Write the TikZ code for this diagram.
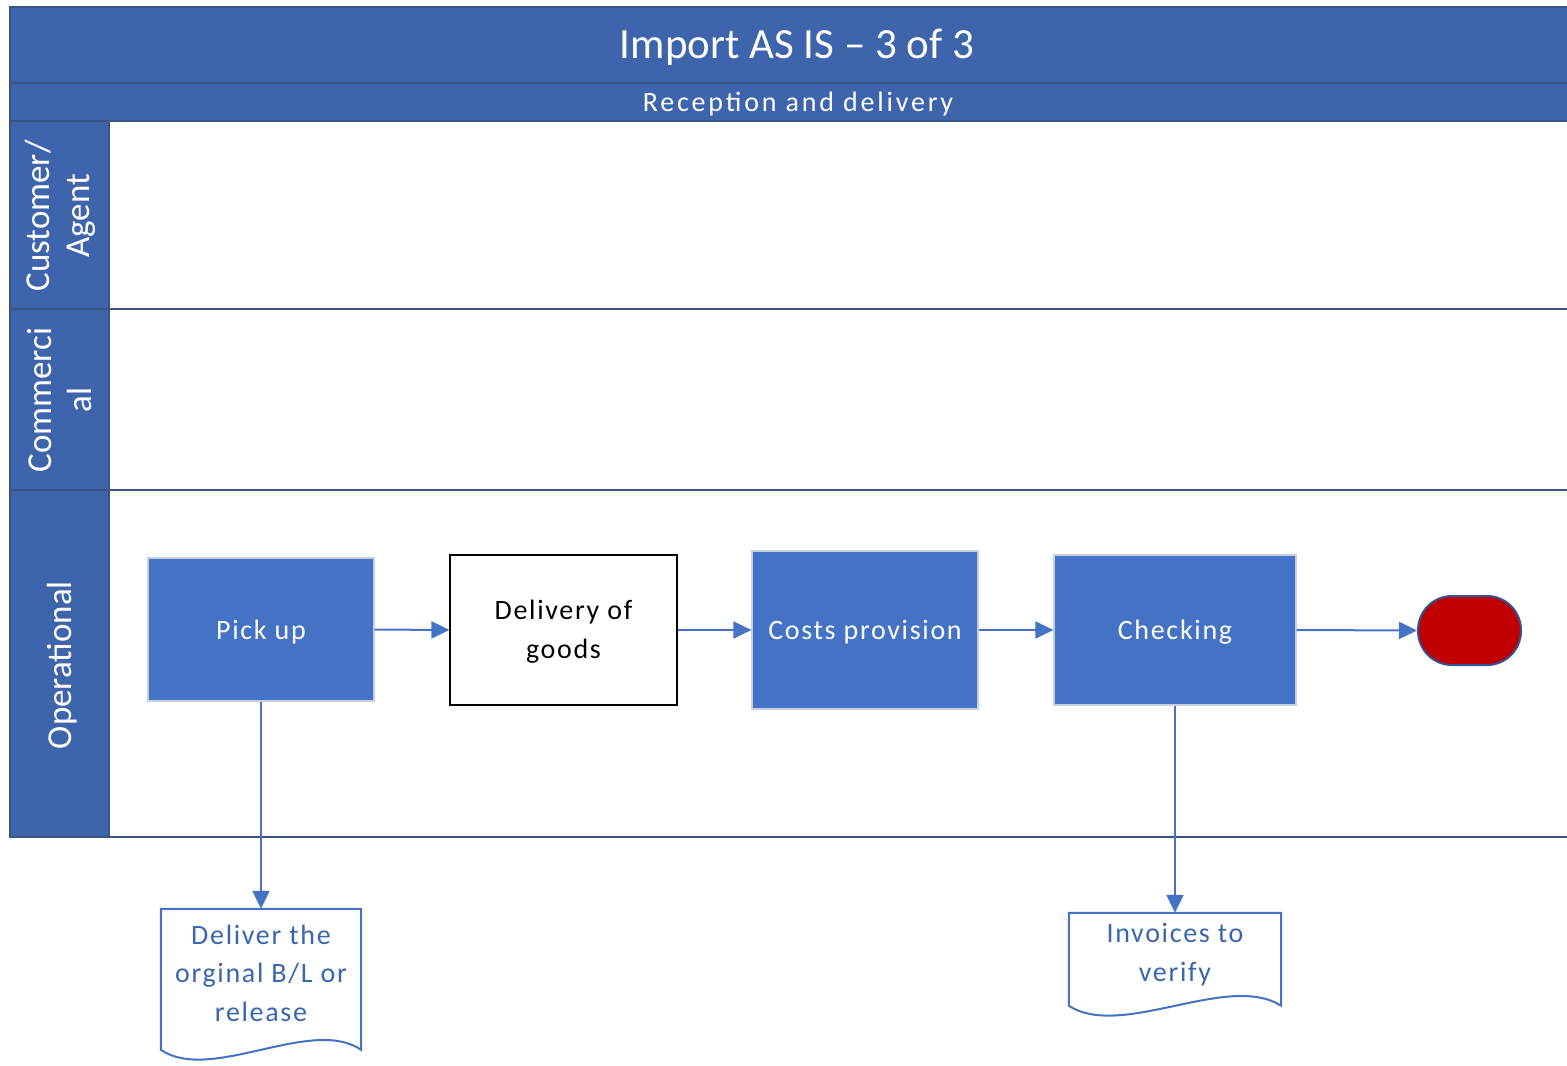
\documentclass[tikz,border=0pt]{standalone}
\usepackage{fontspec}
\setmainfont{Carlito}
\newfontfamily\spacedfont[LetterSpace=6]{Carlito}
\newfontfamily\widefont[LetterSpace=10]{Carlito}
\usetikzlibrary{arrows.meta,calc}
\definecolor{hdr}{HTML}{3E64AC}
\definecolor{rule}{HTML}{3A5584}
\definecolor{proc}{HTML}{4472C4}
\definecolor{procedge}{HTML}{C5CEDF}
\definecolor{flow}{HTML}{4472C4}
\definecolor{doctext}{HTML}{3A65B0}
\definecolor{stopred}{HTML}{C00000}
\definecolor{stopedge}{HTML}{2F5597}
\begin{document}
\begin{tikzpicture}[x=1pt,y=-1pt,
  lanerule/.style={draw=rule,line width=2pt},
  lanelabel/.style={rotate=90,align=center,text=white,font=\fontsize{35}{40}\selectfont},
  steptext/.style={font=\spacedfont\fontsize{28}{39}\selectfont,align=center,
    text height=22pt,text depth=3pt},
  procbox/.style={steptext,rectangle,fill=proc,draw=procedge,line width=1.2pt,text=white},
  plainbox/.style={steptext,rectangle,fill=white,draw=black,line width=1.2pt,text=black},
  stopbox/.style={rectangle,rounded corners=34pt,fill=stopred,draw=stopedge,line width=2pt},
  docnode/.style={rectangle,draw=none,text=doctext,align=center,
    font=\spacedfont\fontsize{28}{38.5}\selectfont,inner sep=0pt},
  docline/.style={draw=flow,line width=2pt,fill=white},
  flowarrow/.style={draw=flow,line width=2pt,-{Triangle[length=18pt,width=17pt]}}]
\useasboundingbox (0,0) rectangle (1567,1066);

% header bands and lane heading column
\fill[hdr] (10,7) rectangle (1567,121);
\fill[hdr] (10,121) rectangle (109,837);
\draw[lanerule] (1567,7) -- (10,7) -- (10,837) -- (1567,837);
\draw[lanerule] (10,83) -- (1567,83);
\draw[lanerule] (10,121) -- (1567,121);
\draw[lanerule] (109,121) -- (109,837);
\draw[lanerule] (10,309) -- (1567,309);
\draw[lanerule] (10,490) -- (1567,490);

\node[text=white,font=\fontsize{43}{46}\selectfont,anchor=base] (title) at (797,58) {Import AS IS -- 3 of 3};
\node[text=white,font=\widefont\fontsize{28}{30}\selectfont,anchor=base] (subtitle) at (798,111) {Reception and delivery};

% lane names
\node[lanelabel] (laneA) at (60,216) {Customer/\\Agent};
\node[lanelabel] (laneB) at (60,400) {Commerci\\al};
\node[lanelabel] (laneC) at (62,665) {Operational};

% process steps
\node[procbox,minimum width=226pt,minimum height=143pt] (pick) at (261,629.5) {Pick up};
\node[plainbox,minimum width=227pt,minimum height=150pt,text height=61pt,text depth=5pt] (deliv) at (563.5,630) {Delivery of\\goods};
\node[procbox,minimum width=226pt,minimum height=158pt] (costs) at (865,630) {Costs provision};
\node[procbox,minimum width=242pt,minimum height=150pt] (check) at (1175,630) {Checking};
\node[stopbox,minimum width=103pt,minimum height=69pt] (stop) at (1469.5,630.5) {};

% document shapes: frame node first, outline, then the text on top
\node[docnode,minimum width=200pt,minimum height=130pt] (doc1) at (261,974) {};
\node[docnode,minimum width=212pt,minimum height=83pt] (doc2) at (1175,954.5) {};
\path[docline] (doc1.north west) -- (doc1.north east) -- ($(doc1.north east)+(0,141)$)
  .. controls +(-50,-34) and +(50,34) .. ($(doc1.north west)+(0,141)$) -- cycle;
\path[docline] (doc2.north west) -- (doc2.north east) -- ($(doc2.north east)+(0,93)$)
  .. controls +(-53,-34) and +(53,34) .. ($(doc2.north west)+(0,93)$) -- cycle;
\node[docnode] (doc1text) at ([yshift=1pt]doc1.center) {Deliver the\\orginal B/L or\\release};
\node[docnode] (doc2text) at (doc2.center) {Invoices to\\verify};

% connectors
\draw[flowarrow] (pick.east) -- (deliv.west);
\draw[flowarrow] (deliv.east) -- (costs.west);
\draw[flowarrow] (costs.east) -- (check.west);
\draw[flowarrow] (check.east) -- (stop.west);
\draw[flowarrow] (pick.south) -- (doc1.north);
\draw[flowarrow] (check.south) -- (doc2.north);
\end{tikzpicture}
\end{document}
